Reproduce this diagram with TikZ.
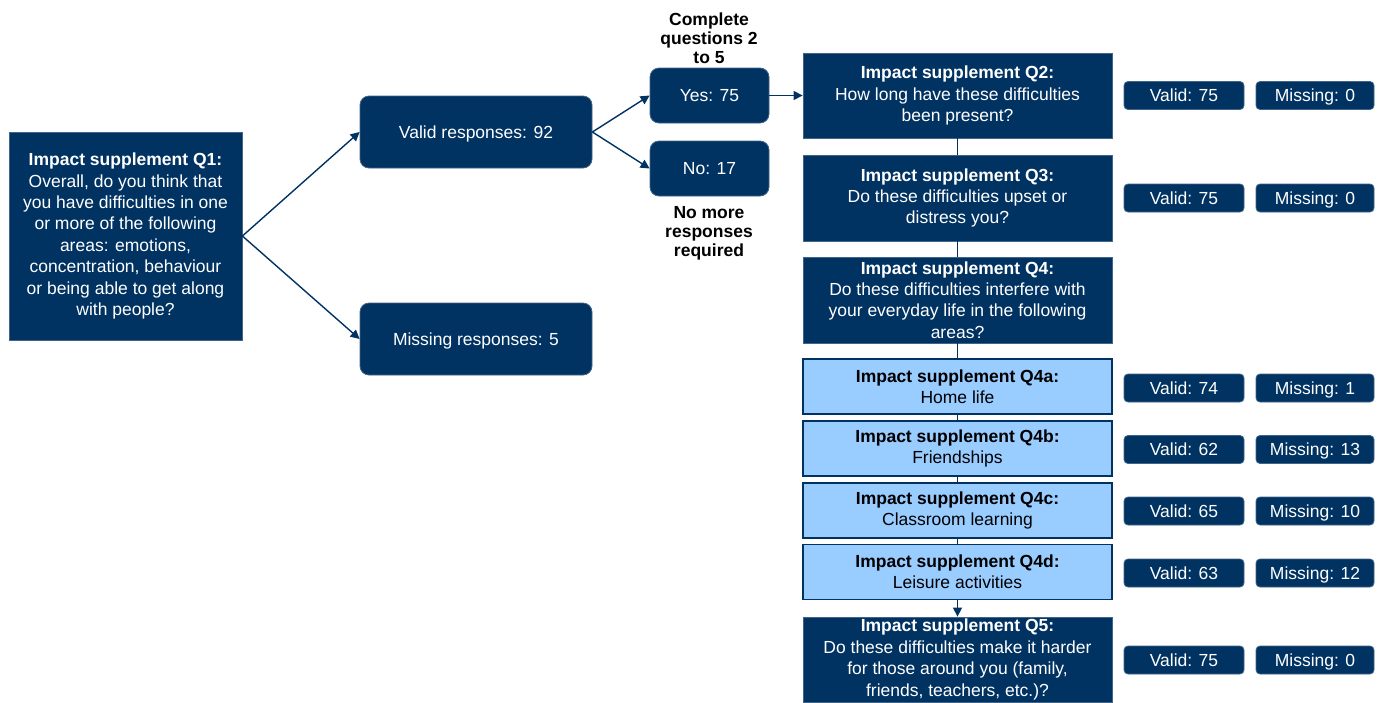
\documentclass[tikz,border=0pt]{standalone}
\usepackage{fontspec}
\setmainfont{Liberation Sans}
\usetikzlibrary{arrows.meta,positioning}
\definecolor{qnavy}{RGB}{0,50,98}
\definecolor{qlight}{RGB}{153,204,255}

\begin{document}
\begin{tikzpicture}[x=1pt,y=-1pt,
  font=\fontsize{17.5}{21.4}\selectfont,
  qdark/.style={draw=qnavy!75!white,fill=qnavy,text=white,align=center,inner sep=0pt,line width=0.8pt},
  qpale/.style={draw=qnavy,fill=qlight,text=black,align=center,inner sep=0pt,line width=1.2pt,minimum width=309,minimum height=55},
  qround/.style={qdark,rounded corners=9pt,text height=12.5pt,text depth=0pt},
  qtag/.style={qdark,rounded corners=4pt,minimum height=28,text height=12.5pt,text depth=0pt},
  qnote/.style={align=center,font=\fontsize{17.5}{19}\selectfont\bfseries},
  link/.style={qnavy,line width=1.4pt},
  flow/.style={link,-{Triangle[length=9pt,width=9pt]}}]
\useasboundingbox (0,0) rectangle (1385,702);
% first question and its split
\node[qdark,minimum width=233,minimum height=208] (q1) at (125.5,236)
  {\textbf{Impact supplement Q1:}\\Overall, do you think that\\you have difficulties in one\\or more of the following\\areas: emotions,\\concentration, behaviour\\or being able to get along\\with people?};
\node[qround,minimum width=232,minimum height=72] (valid) at (476,132) {Valid responses: 92};
\node[qround,minimum width=232,minimum height=72] (missing) at (476,339) {Missing responses: 5};
\node[qround,minimum width=119,minimum height=55] (yes) at (709.5,95.5) {Yes: 75};
\node[qround,minimum width=119,minimum height=55] (no) at (709.5,168.5) {No: 17};
\node[qnote] (complete) at (709,38) {Complete\\questions 2\\to 5};
\node[qnote] (nomore) at (709,233) {No more\\responses\\required};
\draw[flow] (q1.east) -- (valid.west);
\draw[flow] (q1.east) -- (missing.west);
\draw[flow] (valid.east) -- (yes.west);
\draw[flow] (valid.east) -- (no.west);
% questions 2 to 5
\node[qdark,minimum width=309,minimum height=85] (q2) at (957.5,95.5)
  {\textbf{Impact supplement Q2:}\\How long have these difficulties\\been present?};
\node[qdark,minimum width=309,minimum height=86] (q3) at (957.5,198)
  {\textbf{Impact supplement Q3:}\\Do these difficulties upset or\\distress you?};
\node[qdark,minimum width=309,minimum height=86] (q4) at (957.5,300)
  {\textbf{Impact supplement Q4:}\\Do these difficulties interfere with\\your everyday life in the following\\areas?};
\node[qpale] (q4a) at (957.5,386.5) {\textbf{Impact supplement Q4a:}\\Home life};
\node[qpale] (q4b) at (957.5,448.5) {\textbf{Impact supplement Q4b:}\\Friendships};
\node[qpale] (q4c) at (957.5,510.5) {\textbf{Impact supplement Q4c:}\\Classroom learning};
\node[qpale] (q4d) at (957.5,572) {\textbf{Impact supplement Q4d:}\\Leisure activities};
\node[qdark,minimum width=309,minimum height=85] (q5) at (957.5,659.5)
  {\textbf{Impact supplement Q5:}\\Do these difficulties make it harder\\for those around you (family,\\friends, teachers, etc.)?};
\draw[flow] (yes.east) -- (q2.west);
\foreach \a/\b in {q2/q3,q3/q4,q4/q4a,q4a/q4b,q4b/q4c,q4c/q4d} \draw[link] (\a.south) -- (\b.north);
\draw[flow] (q4d.south) -- (q5.north);
% counts
\foreach \n/\y/\v/\m in {q2/95.5/75/0,q3/198/75/0,q4a/388/74/1,q4b/449.5/62/13,q4c/511/65/10,q4d/573/63/12,q5/660/75/0} {
  \node[qtag,minimum width=120] (v\n) at (1184,\y) {Valid: \v};
  \node[qtag,minimum width=118] (m\n) at (1315,\y) {Missing: \m};
}
\end{tikzpicture}
\end{document}
